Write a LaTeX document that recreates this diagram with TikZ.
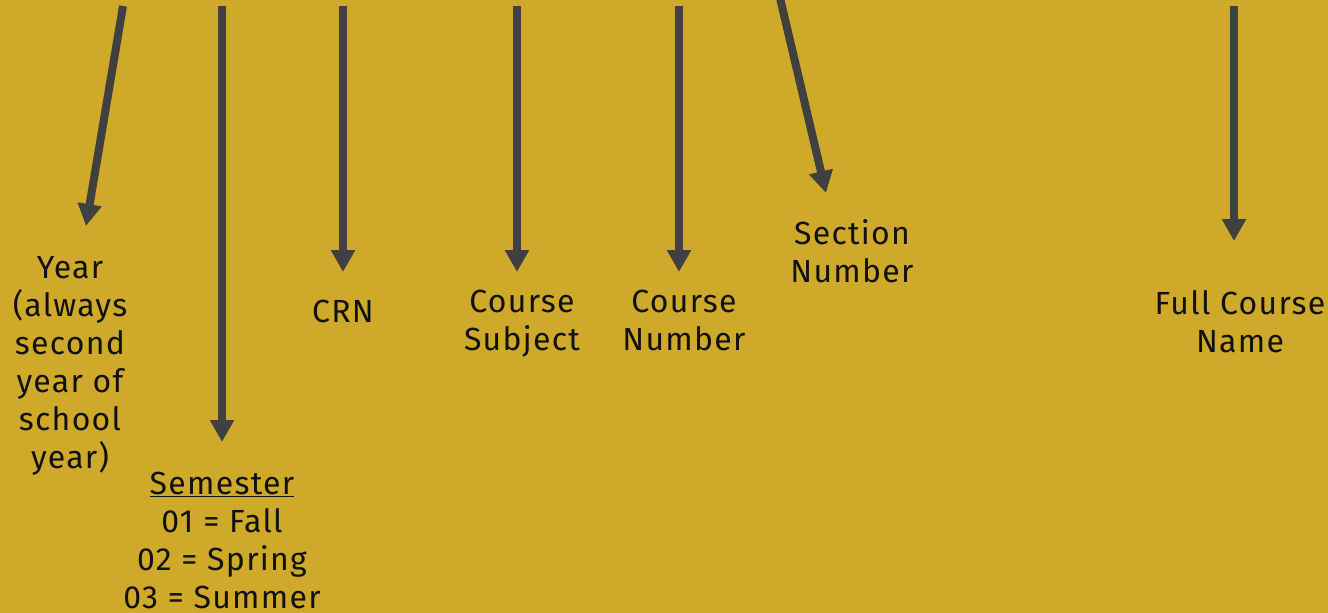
\documentclass[tikz,border=0pt]{standalone}
\usepackage{fontspec}
\setmainfont{Fira Sans}[LetterSpace=4]
\usetikzlibrary{arrows.meta}
\definecolor{mustard}{HTML}{CFA92A}
\definecolor{arrowgray}{HTML}{404040}
\definecolor{ink}{HTML}{111111}
\tikzset{
  pointer/.style={draw=arrowgray, line width=8pt,
    -{Triangle[width=23pt,length=22pt]}},
  lbl/.style={text=ink, align=center, inner sep=0pt,
    font=\fontsize{32}{38}\selectfont},
}
\begin{document}
\begin{tikzpicture}[x=1pt,y=-1pt]
  \fill[mustard] (0,0) rectangle (1328,613);
  \useasboundingbox (0,0) rectangle (1328,613);

  % arrow start points along the top edge
  \coordinate (s1) at (123,6);
  \coordinate (s2) at (222,6);
  \coordinate (s3) at (343,6);
  \coordinate (s4) at (517,6);
  \coordinate (s5) at (679,6);
  \coordinate (s6) at (780,-2);
  \coordinate (s7) at (1234,6);

  % arrow tips
  \coordinate (t1) at (86,226);
  \coordinate (t2) at (222,442);
  \coordinate (t3) at (343,272);
  \coordinate (t4) at (517,272);
  \coordinate (t5) at (679,272);
  \coordinate (t6) at (826,193);
  \coordinate (t7) at (1234,241);

  \draw[pointer] (s1) -- (t1);
  \draw[pointer] (s2) -- (t2);
  \draw[pointer] (s3) -- (t3);
  \draw[pointer] (s4) -- (t4);
  \draw[pointer] (s5) -- (t5);
  \draw[pointer] (s6) -- (t6);
  \draw[pointer] (s7) -- (t7);

  % labels
  \node[lbl, anchor=north] (year) at (70,256)
    {Year\\(always\\second\\year of\\school\\year)};
  \node[lbl, anchor=north] (sem) at (222,472)
    {\underline{Semester}\\01 = Fall\\02 = Spring\\03 = Summer};
  \node[lbl, anchor=north] (crn) at (343,300) {CRN};
  \node[lbl, anchor=north] (subj) at (522,290) {Course\\Subject};
  \node[lbl, anchor=north] (cnum) at (684,290) {Course\\Number};
  \node[lbl, anchor=north] (sect) at (852,219) {Section\\Number};
  \node[lbl, anchor=north] (full) at (1240,290) {Full Course\\Name};
\end{tikzpicture}
\end{document}
